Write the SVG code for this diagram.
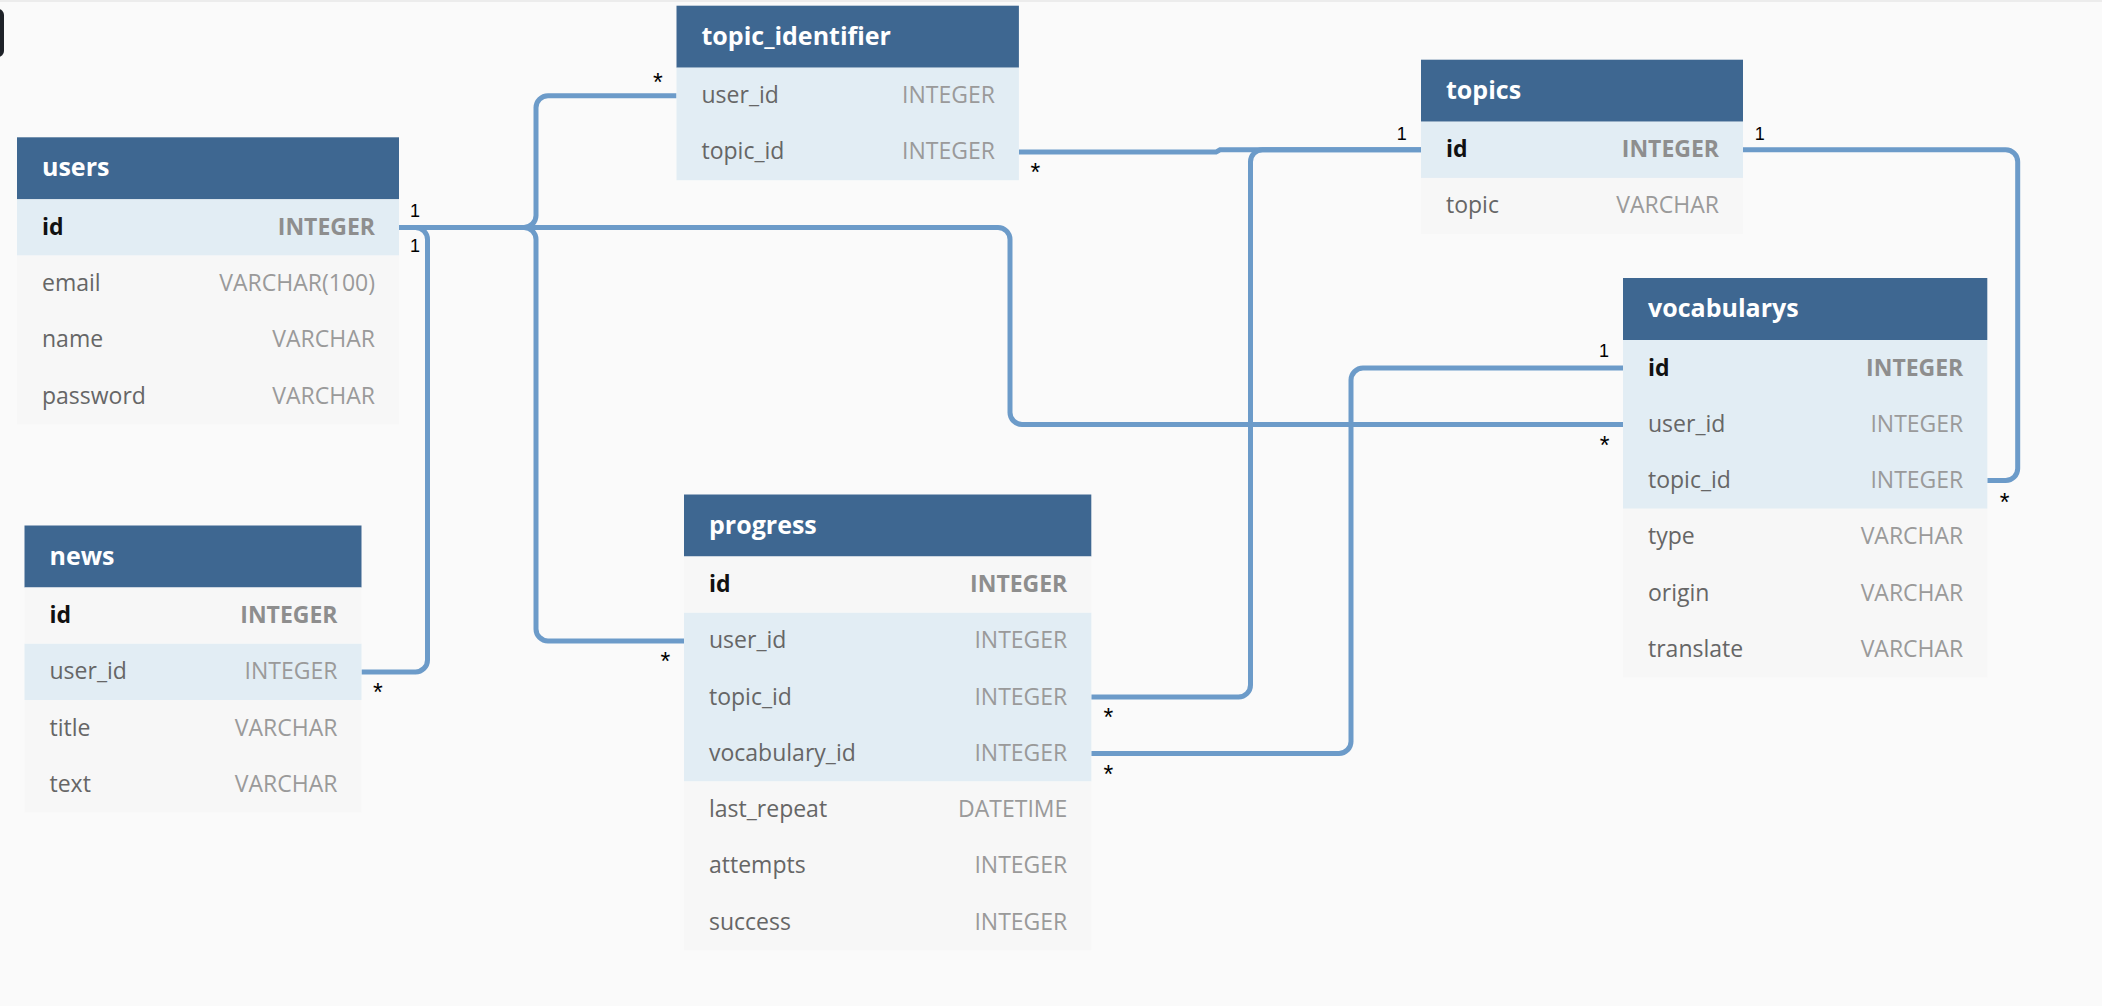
<svg xmlns="http://www.w3.org/2000/svg" width="2102" height="1006" viewBox="0 0 2102 1006">
<style>
.bg{fill:#fafafa}
.hdr{fill:#3e6791}
.rb{fill:#e2edf4}
.rg{fill:#f7f7f7}
.t{font-family:'Open Sans','Liberation Sans',sans-serif;font-weight:700;font-size:25px;fill:#ffffff}
.f{font-family:'Open Sans','Liberation Sans',sans-serif;font-size:23px;fill:#666666}
.ty{font-family:'Open Sans','Liberation Sans',sans-serif;font-size:23px;fill:#9a9a9a;text-anchor:end}
.pk{font-weight:700;fill:#111111}
.pkt{font-weight:700;fill:#8e8e8e}
.one{font-family:'Liberation Sans',Arial,sans-serif;font-size:18px;fill:#000000}
.many{font-family:'Liberation Sans',Arial,sans-serif;font-size:25px;fill:#000000}
.c{fill:none;stroke:#6c9bc9;stroke-width:5}
</style>
<rect class="bg" x="0" y="0" width="2102" height="1006"/>
<rect x="0" y="0" width="2102" height="2" fill="#ececec"/>
<rect x="-20" y="9" width="24" height="48" rx="6" fill="#1e2228"/>

<g id="connectors">
<path class="c" d="M398.7,227.4 H524 A12,12 0 0 0 536,215.4 V107.8 A12,12 0 0 1 548,95.8 H676.5"/>
<path class="c" d="M398.7,227.4 H524 A12,12 0 0 1 536,239.4 V628.9 A12,12 0 0 0 548,640.9 H684"/>
<path class="c" d="M398.7,227.4 H998 A12,12 0 0 1 1010,239.4 V412.4 A12,12 0 0 0 1022,424.4 H1623"/>
<path class="c" d="M398.7,227.4 H415.5 A12,12 0 0 1 427.5,239.4 V659.9 A12,12 0 0 1 415.5,671.9 H361.5"/>
<path class="c" d="M1018.9,152.1 H1216 L1220,149.8 H1421"/>
<path class="c" d="M1421,149.8 H1262.5 A12,12 0 0 0 1250.5,161.8 V685.1 A12,12 0 0 1 1238.5,697.1 H1091.3"/>
<path class="c" d="M1623,368.1 H1363 A12,12 0 0 0 1351,380.1 V741.4 A12,12 0 0 1 1339,753.4 H1091.3"/>
<path class="c" d="M1743,149.8 H2005.7 A12,12 0 0 1 2017.7,161.8 V468.6 A12,12 0 0 1 2005.7,480.6 H1987.3"/>
<text class="one" x="410" y="216.7">1</text>
<text class="one" x="410" y="251.7">1</text>
<text class="many" x="653" y="90.5">*</text>
<text class="many" x="1030.5" y="180.5">*</text>
<text class="one" x="1396.7" y="140">1</text>
<text class="one" x="1754.8" y="140">1</text>
<text class="one" x="1599" y="356.7">1</text>
<text class="many" x="1599.7" y="453.8">*</text>
<text class="many" x="1999.7" y="511">*</text>
<text class="many" x="373" y="701">*</text>
<text class="many" x="660.5" y="669.8">*</text>
<text class="many" x="1103.5" y="726.2">*</text>
<text class="many" x="1103.5" y="782.8">*</text>
</g>

<g id="users">
<rect class="hdr" x="17" y="137.3" width="382" height="62"/>
<text class="t" x="42" y="176.3">users</text>
<rect class="rb" x="17" y="199.3" width="382" height="56.25"/>
<rect class="rg" x="17" y="255.55" width="382" height="168.75"/>
<text class="f pk" x="42" y="234.8">id</text><text class="ty pkt" x="375" y="234.8">INTEGER</text>
<text class="f" x="42" y="291.05">email</text><text class="ty" x="375" y="291.05">VARCHAR(100)</text>
<text class="f" x="42" y="347.3">name</text><text class="ty" x="375" y="347.3">VARCHAR</text>
<text class="f" x="42" y="403.55">password</text><text class="ty" x="375" y="403.55">VARCHAR</text>
</g>

<g id="topic_identifier">
<rect class="hdr" x="676.5" y="5.7" width="342.4" height="62"/>
<text class="t" x="701.5" y="44.7">topic_identifier</text>
<rect class="rb" x="676.5" y="67.7" width="342.4" height="112.5"/>
<text class="f" x="701.5" y="103.2">user_id</text><text class="ty" x="994.9" y="103.2">INTEGER</text>
<text class="f" x="701.5" y="159.45">topic_id</text><text class="ty" x="994.9" y="159.45">INTEGER</text>
</g>

<g id="topics">
<rect class="hdr" x="1421" y="59.7" width="322" height="62"/>
<text class="t" x="1446" y="98.7">topics</text>
<rect class="rb" x="1421" y="121.7" width="322" height="56.25"/>
<rect class="rg" x="1421" y="177.95" width="322" height="56.25"/>
<text class="f pk" x="1446" y="157.2">id</text><text class="ty pkt" x="1719" y="157.2">INTEGER</text>
<text class="f" x="1446" y="213.45">topic</text><text class="ty" x="1719" y="213.45">VARCHAR</text>
</g>

<g id="vocabularys">
<rect class="hdr" x="1623" y="278" width="364.3" height="62"/>
<text class="t" x="1648" y="317">vocabularys</text>
<rect class="rb" x="1623" y="340" width="364.3" height="168.75"/>
<rect class="rg" x="1623" y="508.75" width="364.3" height="168.75"/>
<text class="f pk" x="1648" y="375.5">id</text><text class="ty pkt" x="1963.3" y="375.5">INTEGER</text>
<text class="f" x="1648" y="431.75">user_id</text><text class="ty" x="1963.3" y="431.75">INTEGER</text>
<text class="f" x="1648" y="488">topic_id</text><text class="ty" x="1963.3" y="488">INTEGER</text>
<text class="f" x="1648" y="544.25">type</text><text class="ty" x="1963.3" y="544.25">VARCHAR</text>
<text class="f" x="1648" y="600.5">origin</text><text class="ty" x="1963.3" y="600.5">VARCHAR</text>
<text class="f" x="1648" y="656.75">translate</text><text class="ty" x="1963.3" y="656.75">VARCHAR</text>
</g>

<g id="news">
<rect class="hdr" x="24.5" y="525.5" width="337" height="62"/>
<text class="t" x="49.5" y="564.5">news</text>
<rect class="rg" x="24.5" y="587.5" width="337" height="56.25"/>
<rect class="rb" x="24.5" y="643.75" width="337" height="56.25"/>
<rect class="rg" x="24.5" y="700" width="337" height="112.5"/>
<text class="f pk" x="49.5" y="623">id</text><text class="ty pkt" x="337.5" y="623">INTEGER</text>
<text class="f" x="49.5" y="679.25">user_id</text><text class="ty" x="337.5" y="679.25">INTEGER</text>
<text class="f" x="49.5" y="735.5">title</text><text class="ty" x="337.5" y="735.5">VARCHAR</text>
<text class="f" x="49.5" y="791.75">text</text><text class="ty" x="337.5" y="791.75">VARCHAR</text>
</g>

<g id="progress">
<rect class="hdr" x="684" y="494.5" width="407.3" height="62"/>
<text class="t" x="709" y="533.5">progress</text>
<rect class="rg" x="684" y="556.5" width="407.3" height="56.25"/>
<rect class="rb" x="684" y="612.75" width="407.3" height="168.75"/>
<rect class="rg" x="684" y="781.5" width="407.3" height="168.75"/>
<text class="f pk" x="709" y="592">id</text><text class="ty pkt" x="1067.3" y="592">INTEGER</text>
<text class="f" x="709" y="648.25">user_id</text><text class="ty" x="1067.3" y="648.25">INTEGER</text>
<text class="f" x="709" y="704.5">topic_id</text><text class="ty" x="1067.3" y="704.5">INTEGER</text>
<text class="f" x="709" y="760.75">vocabulary_id</text><text class="ty" x="1067.3" y="760.75">INTEGER</text>
<text class="f" x="709" y="817">last_repeat</text><text class="ty" x="1067.3" y="817">DATETIME</text>
<text class="f" x="709" y="873.25">attempts</text><text class="ty" x="1067.3" y="873.25">INTEGER</text>
<text class="f" x="709" y="929.5">success</text><text class="ty" x="1067.3" y="929.5">INTEGER</text>
</g>
</svg>
